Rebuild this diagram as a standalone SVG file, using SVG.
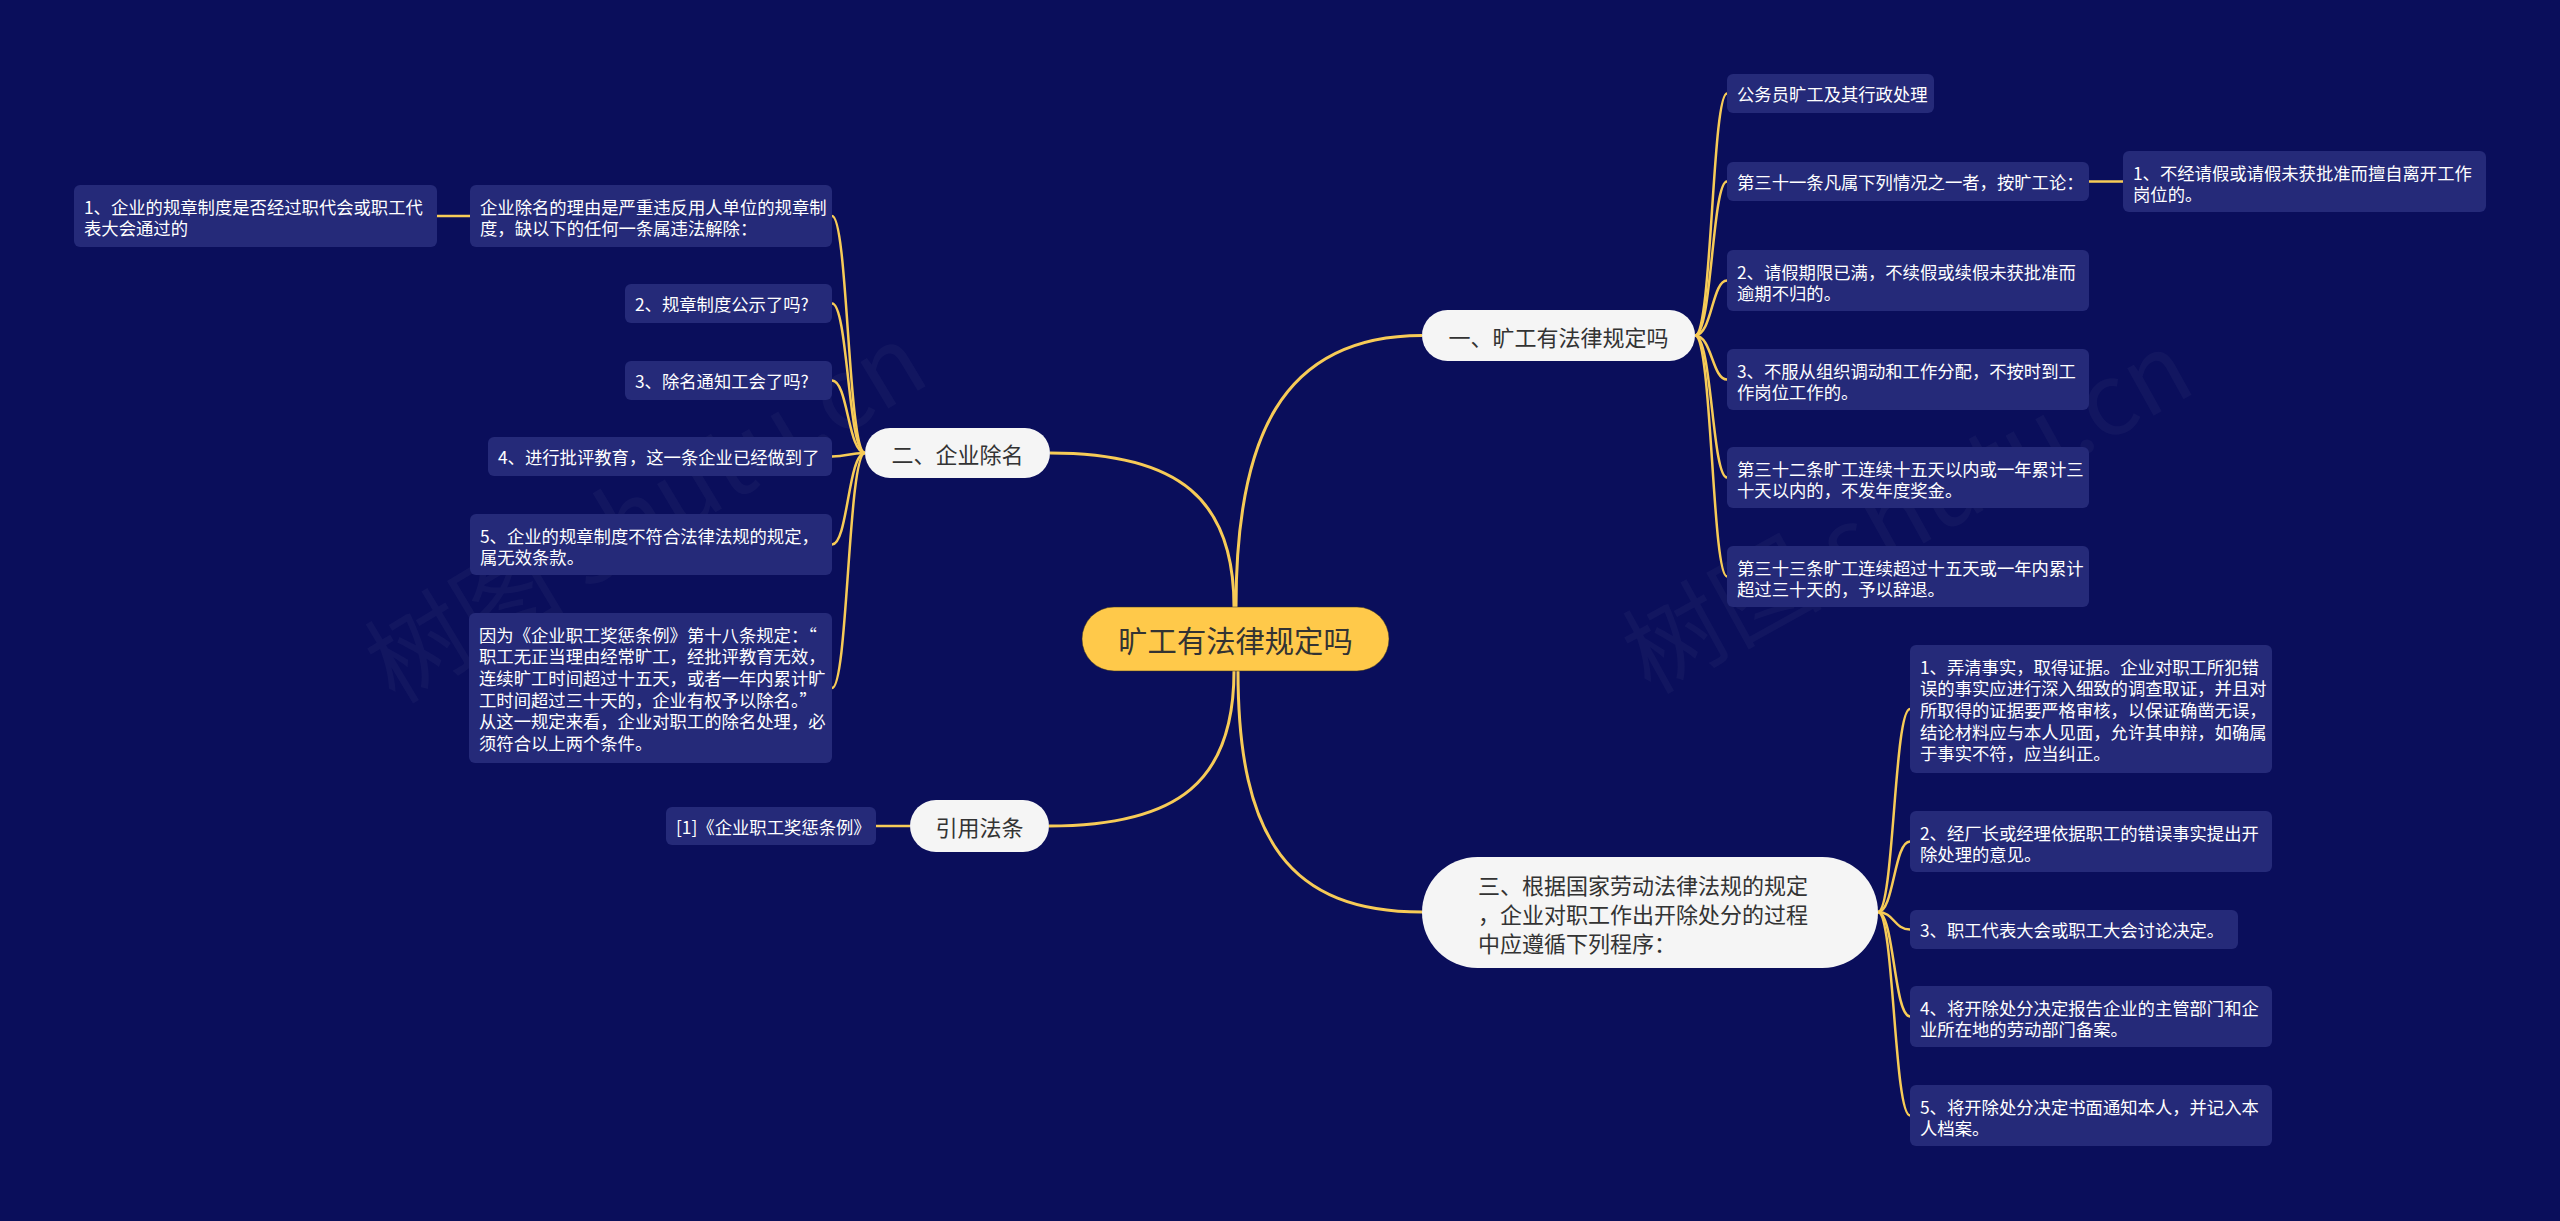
<svg xmlns="http://www.w3.org/2000/svg" width="2560" height="1221" viewBox="0 0 2560 1221">
<style>
.bg{fill:#0A0E5B}
.box{fill:#252A79}
.pill{fill:#F5F5F5}
.t{font-family:"Noto Sans CJK SC","Microsoft YaHei",sans-serif;font-size:17.33px;fill:#FFFFFF;dominant-baseline:central}
.m{font-family:"Noto Sans CJK SC","Microsoft YaHei",sans-serif;font-size:22px;fill:#333333;dominant-baseline:central}
.c{font-family:"Noto Sans CJK SC","Microsoft YaHei",sans-serif;font-size:29.3px;fill:#333333;dominant-baseline:central;text-anchor:middle}
.mid{text-anchor:middle}
.link{fill:none;stroke:#F7CB57;stroke-width:2.5}
.main{fill:none;stroke:#F7CB57;stroke-width:3}
.wm{font-family:"Noto Sans CJK SC",sans-serif;font-size:100px;fill:#FFFFFF;fill-opacity:0.035}
</style>
<rect class="bg" x="0" y="0" width="2560" height="1221"/>
<g id="watermark">
<text class="wm" transform="translate(395,705) rotate(-31)">树图 shutu.cn</text>
<text class="wm" transform="translate(1650,695) rotate(-29)">树图 shutu.cn</text>
</g>
<g id="connectors">
<path class="main" d="M1236,607 C1236,440 1280,335.5 1422,335.5"/>
<path class="main" d="M1234,607 C1234,500 1180,453 1050,453"/>
<path class="main" d="M1234,671 C1234,780 1180,826 1049,826"/>
<path class="main" d="M1238,671 C1238,840 1290,912 1422,912"/>
<path class="link" d="M865,453 C848,453 848,216 832,216"/>
<path class="link" d="M865,453 C848,453 848,303.5 832,303.5"/>
<path class="link" d="M865,453 C848,453 848,380.5 832,380.5"/>
<path class="link" d="M865,453 C848,453 848,456.5 832,456.5"/>
<path class="link" d="M865,453 C848,453 848,544.5 832,544.5"/>
<path class="link" d="M865,453 C848,453 848,688 832,688"/>
<path class="link" d="M470,216 L437,216"/>
<path class="link" d="M910,826 L876,826"/>
<path class="link" d="M1695,335.5 C1712,335.5 1712,93.5 1727,93.5"/>
<path class="link" d="M1695,335.5 C1712,335.5 1712,181.5 1727,181.5"/>
<path class="link" d="M1695,335.5 C1712,335.5 1712,280.5 1727,280.5"/>
<path class="link" d="M1695,335.5 C1712,335.5 1712,379.5 1727,379.5"/>
<path class="link" d="M1695,335.5 C1712,335.5 1712,477.5 1727,477.5"/>
<path class="link" d="M1695,335.5 C1712,335.5 1712,576.5 1727,576.5"/>
<path class="link" d="M2089,181.5 L2123,181.5"/>
<path class="link" d="M1878,912 C1894,912 1894,709 1910,709"/>
<path class="link" d="M1878,912 C1894,912 1894,841.5 1910,841.5"/>
<path class="link" d="M1878,912 C1894,912 1894,929.5 1910,929.5"/>
<path class="link" d="M1878,912 C1894,912 1894,1016.5 1910,1016.5"/>
<path class="link" d="M1878,912 C1894,912 1894,1115.5 1910,1115.5"/>
</g>
<g id="root">
<rect x="1082" y="607" width="307" height="64" rx="32" fill="#FFC94A" stroke="#3A3320" stroke-opacity="0.5" stroke-width="1"/>
<text class="c" x="1235.5" y="639">旷工有法律规定吗</text>
</g>
<g id="n-yi">
<rect class="pill" x="1422" y="310" width="273" height="51" rx="25.5"/>
<text class="m mid" x="1558.5" y="335.5">一、旷工有法律规定吗</text>
</g>
<g id="n-er">
<rect class="pill" x="865" y="428" width="185" height="50" rx="25"/>
<text class="m mid" x="957.5" y="453">二、企业除名</text>
</g>
<g id="n-yin">
<rect class="pill" x="910" y="800" width="139" height="52" rx="26"/>
<text class="m mid" x="979.5" y="826">引用法条</text>
</g>
<g id="n-san">
<rect class="pill" x="1422" y="857" width="456" height="111" rx="55.5"/>
<text class="m" x="1478" y="884">三、根据国家劳动法律法规的规定</text>
<text class="m" x="1478" y="913">，企业对职工作出开除处分的过程</text>
<text class="m" x="1478" y="942">中应遵循下列程序：</text>
</g>
<g id="b1">
<rect class="box" x="470" y="185" width="362" height="62" rx="6"/>
<text class="t" x="480" y="206">企业除名的理由是严重违反用人单位的规章制</text>
<text class="t" x="480" y="227.5">度，缺以下的任何一条属违法解除：</text>
</g>
<g id="b1a">
<rect class="box" x="74" y="185" width="363" height="62" rx="6"/>
<text class="t" x="84" y="206">1、企业的规章制度是否经过职代会或职工代</text>
<text class="t" x="84" y="227.5">表大会通过的</text>
</g>
<g id="b2">
<rect class="box" x="625" y="284" width="207" height="39" rx="6"/>
<text class="t" x="635" y="303.5">2、规章制度公示了吗?</text>
</g>
<g id="b3">
<rect class="box" x="625" y="361" width="207" height="39" rx="6"/>
<text class="t" x="635" y="380.5">3、除名通知工会了吗?</text>
</g>
<g id="b4">
<rect class="box" x="488" y="437" width="344" height="39" rx="6"/>
<text class="t" x="498" y="456.5">4、进行批评教育，这一条企业已经做到了</text>
</g>
<g id="b5">
<rect class="box" x="470" y="514" width="362" height="61" rx="6"/>
<text class="t" x="480" y="535">5、企业的规章制度不符合法律法规的规定，</text>
<text class="t" x="480" y="556.5">属无效条款。</text>
</g>
<g id="b6">
<rect class="box" x="469" y="613" width="363" height="150" rx="6"/>
<text class="t" x="479" y="634">因为《企业职工奖惩条例》第十八条规定：“</text>
<text class="t" x="479" y="655.7">职工无正当理由经常旷工，经批评教育无效，</text>
<text class="t" x="479" y="677.3">连续旷工时间超过十五天，或者一年内累计旷</text>
<text class="t" x="479" y="699">工时间超过三十天的，企业有权予以除名。”</text>
<text class="t" x="479" y="720.7">从这一规定来看，企业对职工的除名处理，必</text>
<text class="t" x="479" y="742.3">须符合以上两个条件。</text>
</g>
<g id="c1">
<rect class="box" x="666" y="807" width="210" height="38" rx="6"/>
<text class="t" x="676" y="826">[1]《企业职工奖惩条例》</text>
</g>
<g id="r1">
<rect class="box" x="1727" y="74" width="207" height="39" rx="6"/>
<text class="t" x="1737" y="93.5">公务员旷工及其行政处理</text>
</g>
<g id="r2">
<rect class="box" x="1727" y="162" width="362" height="39" rx="6"/>
<text class="t" x="1737" y="181.5">第三十一条凡属下列情况之一者，按旷工论：</text>
</g>
<g id="r2a">
<rect class="box" x="2123" y="151" width="363" height="61" rx="6"/>
<text class="t" x="2133" y="172">1、不经请假或请假未获批准而擅自离开工作</text>
<text class="t" x="2133" y="193.5">岗位的。</text>
</g>
<g id="r3">
<rect class="box" x="1727" y="250" width="362" height="61" rx="6"/>
<text class="t" x="1737" y="271">2、请假期限已满，不续假或续假未获批准而</text>
<text class="t" x="1737" y="292.5">逾期不归的。</text>
</g>
<g id="r4">
<rect class="box" x="1727" y="349" width="362" height="61" rx="6"/>
<text class="t" x="1737" y="370">3、不服从组织调动和工作分配，不按时到工</text>
<text class="t" x="1737" y="391.5">作岗位工作的。</text>
</g>
<g id="r5">
<rect class="box" x="1727" y="447" width="362" height="61" rx="6"/>
<text class="t" x="1737" y="468">第三十二条旷工连续十五天以内或一年累计三</text>
<text class="t" x="1737" y="489.5">十天以内的，不发年度奖金。</text>
</g>
<g id="r6">
<rect class="box" x="1727" y="546" width="362" height="61" rx="6"/>
<text class="t" x="1737" y="567">第三十三条旷工连续超过十五天或一年内累计</text>
<text class="t" x="1737" y="588.5">超过三十天的，予以辞退。</text>
</g>
<g id="t1">
<rect class="box" x="1910" y="645" width="362" height="128" rx="6"/>
<text class="t" x="1920" y="666">1、弄清事实，取得证据。企业对职工所犯错</text>
<text class="t" x="1920" y="687.7">误的事实应进行深入细致的调查取证，并且对</text>
<text class="t" x="1920" y="709.3">所取得的证据要严格审核，以保证确凿无误，</text>
<text class="t" x="1920" y="731">结论材料应与本人见面，允许其申辩，如确属</text>
<text class="t" x="1920" y="752.7">于事实不符，应当纠正。</text>
</g>
<g id="t2">
<rect class="box" x="1910" y="811" width="362" height="61" rx="6"/>
<text class="t" x="1920" y="832">2、经厂长或经理依据职工的错误事实提出开</text>
<text class="t" x="1920" y="853.5">除处理的意见。</text>
</g>
<g id="t3">
<rect class="box" x="1910" y="910" width="328" height="39" rx="6"/>
<text class="t" x="1920" y="929.5">3、职工代表大会或职工大会讨论决定。</text>
</g>
<g id="t4">
<rect class="box" x="1910" y="986" width="362" height="61" rx="6"/>
<text class="t" x="1920" y="1007">4、将开除处分决定报告企业的主管部门和企</text>
<text class="t" x="1920" y="1028.5">业所在地的劳动部门备案。</text>
</g>
<g id="t5">
<rect class="box" x="1910" y="1085" width="362" height="61" rx="6"/>
<text class="t" x="1920" y="1106">5、将开除处分决定书面通知本人，并记入本</text>
<text class="t" x="1920" y="1127.5">人档案。</text>
</g>
</svg>
